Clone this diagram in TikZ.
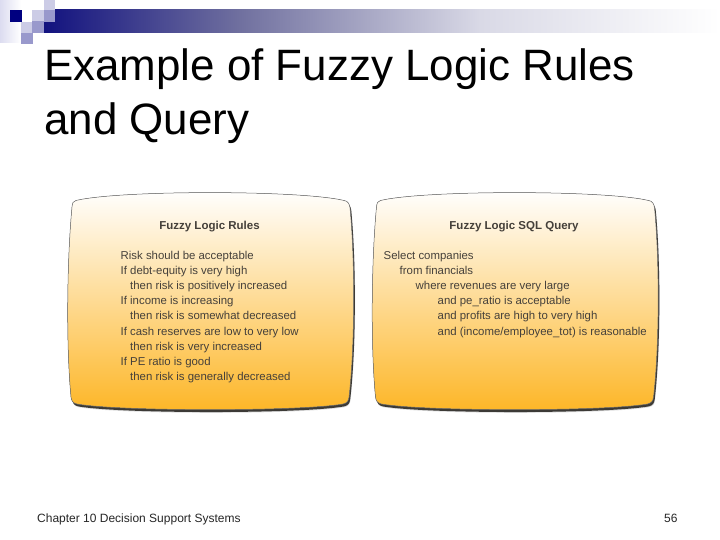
\documentclass[tikz,border=0pt]{standalone}
\usepackage{fontspec}
\setmainfont{Liberation Sans}
\definecolor{navy}{HTML}{12127F}
\definecolor{barmid}{HTML}{70709F}
\definecolor{barlight}{HTML}{D9D9E6}
\definecolor{sqlight}{HTML}{CCCCE6}
\definecolor{sqmid}{HTML}{9999CC}
\definecolor{sqdark}{HTML}{000080}
\definecolor{sqpale}{HTML}{DCDCF0}
\definecolor{panelbot}{HTML}{FDB627}
\definecolor{paneltxt}{HTML}{45403A}
\definecolor{paneledge}{HTML}{3C3A36}
\tikzset{
  titletext/.style={anchor=base west,inner sep=0pt,font=\fontsize{43.9}{48}\selectfont,text=black},
  foot/.style={anchor=base west,inner sep=0pt,font=\fontsize{12}{14}\selectfont,text=black!85},
  head/.style={anchor=base,inner sep=0pt,font=\fontsize{11.5}{13}\bfseries\selectfont,text=paneltxt},
  line/.style={anchor=base west,inner sep=0pt,font=\fontsize{11.4}{13}\selectfont,text=paneltxt},
  sqa/.style={fill=sqlight,draw=none},
  sqb/.style={fill=sqmid,draw=none},
  sqc/.style={fill=sqdark,draw=none}
}
\newcommand{\panelshape}{(76,200.5) .. controls (120,190) and (300,190) .. (344,200.5)
   .. controls (348,201) and (349.5,204) .. (350,208)
   .. controls (355,260) and (355,345) .. (349,397)
   .. controls (348.5,401) and (347,403) .. (343,404)
   .. controls (300,411.5) and (120,411.5) .. (77,404)
   .. controls (73,403) and (71.5,401) .. (71,397)
   .. controls (66,345) and (67,260) .. (72,207)
   .. controls (72.5,203) and (73,201) .. (76,200.5) -- cycle}
\newcommand{\panelbody}[1]{%
  \begin{scope}[shift={(#1,0)}]
    \fill[black!30,opacity=.45,shift={(1.5,3.2)}] \panelshape;
    \fill[paneledge,shift={(1.2,2.4)}] \panelshape;
    \fill[top color=white,bottom color=panelbot] \panelshape;
    \draw[black!55,line width=.5pt] \panelshape;
  \end{scope}}
\begin{document}
\begin{tikzpicture}[x=1pt,y=-1pt]
\useasboundingbox (0,0) rectangle (720,540);
\fill[white] (0,0) rectangle (720,540);
% header band
\fill[left color=navy,right color=barmid] (44,10) rectangle (240,33);
\fill[left color=barmid,right color=barlight] (240,10) rectangle (480,33);
\fill[left color=barlight,right color=white] (480,10) rectangle (720,33);
\fill[left color=sqpale,right color=white] (0,0) rectangle (21,43);
\fill[sqc] (10,10) rectangle (22,22);
\fill[white] (22,10) rectangle (32,22);
\fill[sqa] (32,10) rectangle (44,21);
\fill[sqb] (44,10) rectangle (55,22);
\fill[sqa] (44,0) rectangle (55,10);
\fill[sqa] (21,22) rectangle (32,33);
\fill[sqb] (32,21) rectangle (44,33);
\fill[sqb] (21,33) rectangle (33,44);
% title
\node[titletext] (t1) at (44,81) {Example of Fuzzy Logic Rules};
\node[titletext] (t2) at (44,135) {and Query};
% panels
\panelbody{0}
\panelbody{304.5}
% left panel
\node[head] (h1) at (209.5,229.5) {Fuzzy Logic Rules};
\node[line] (a1) at (120.5,259.5) {Risk should be acceptable};
\node[line] (a2) at (120.5,274.6) {If debt-equity is very high};
\node[line] (a3) at (130,289.7) {then risk is positively increased};
\node[line] (a4) at (120.5,304.8) {If income is increasing};
\node[line] (a5) at (130,319.9) {then risk is somewhat decreased};
\node[line] (a6) at (120.5,335) {If cash reserves are low to very low};
\node[line] (a7) at (130,350.1) {then risk is very increased};
\node[line] (a8) at (120.5,365.2) {If PE ratio is good};
\node[line] (a9) at (130,380.3) {then risk is generally decreased};
% right panel
\node[head] (h2) at (514,229.5) {Fuzzy Logic SQL Query};
\node[line] (b1) at (383.5,259.5) {Select companies};
\node[line] (b2) at (399.5,274.6) {from financials};
\node[line] (b3) at (415.5,289.7) {where revenues are very large};
\node[line] (b4) at (437.5,304.8) {and pe\_ratio is acceptable};
\node[line] (b5) at (437.5,319.9) {and profits are high to very high};
\node[line] (b6) at (437.5,335) {and (income/employee\_tot) is reasonable};
% footer
\node[foot] (f1) at (37,522) {Chapter 10 Decision Support Systems};
\node[foot] (f2) at (664,522) {56};
\end{tikzpicture}
\end{document}
